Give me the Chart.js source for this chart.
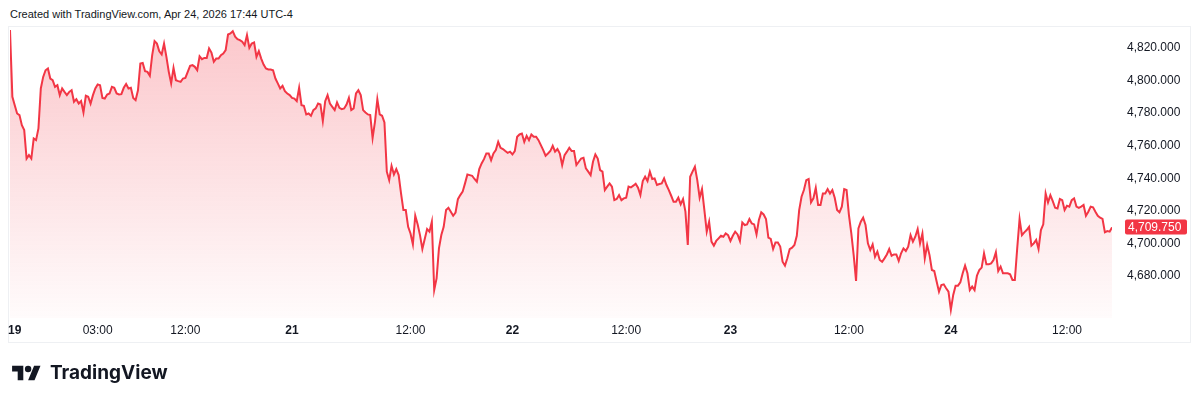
<!DOCTYPE html>
<html>
<head>
<meta charset="utf-8">
<script src="https://cdn.jsdelivr.net/npm/chart.js@4.4.1/dist/chart.umd.min.js"></script>
<style>
  html, body { margin: 0; padding: 0; background: #fff; }
  body { width: 1200px; height: 401px; position: relative; overflow: hidden;
         font-family: "Liberation Sans", Arial, sans-serif; color: #131722; }
  #header { position: absolute; left: 10px; top: 7px; font-size: 11px; line-height: 15px; }
  #frame { position: absolute; left: 8px; top: 26px; width: 1183px; height: 317px;
           border: 1px solid #eef0f3; box-sizing: border-box; }
  #chart { position: absolute; left: 0; top: 0; }
  #logo { position: absolute; left: 12px; top: 361px; display: flex; align-items: center; }
  #logo span { font-family: Inter, "Liberation Sans", sans-serif; font-weight: 700;
               font-size: 19px; margin-left: 9px; color: #131722; }
</style>
</head>
<body>
<div id="header">Created with TradingView.com, Apr 24, 2026 17:44 UTC-4</div>
<div id="frame"></div>
<canvas id="chart" width="1200" height="401"></canvas>
<div id="logo">
  <svg width="29" height="16" viewBox="0 3 36 20"><path fill="#131722" d="M14 22H7V11H0V4h14v18zM28 22h-8l7.5-18h8L28 22z"/><circle fill="#131722" cx="20" cy="8" r="4"/></svg>
  <span>TradingView</span>
</div>
<script>
// 15 minute closes, Sun 19 Apr 18:00 -> Fri 24 Apr
const closes = [
  4831.1, 4790.1, 4784.9, 4779.8, 4778.8, 4772.6, 4769.6, 4752.1, 4754.2, 4752.1,
  4764.4, 4763.4, 4770.6, 4795.2, 4802.3, 4806.4, 4807.5, 4801.3, 4800.3, 4796.2,
  4797.2, 4791.1, 4795.2, 4793.1, 4791.1, 4793.1, 4794.1, 4787.0, 4788.6, 4785.9,
  4787.4, 4780.4, 4790.7, 4790.1, 4785.9, 4791.1, 4795.2, 4797.7, 4797.2, 4789.4,
  4789.0, 4791.5, 4792.1, 4796.2, 4795.6, 4792.1, 4791.5, 4791.7, 4795.6, 4797.9,
  4795.2, 4795.6, 4789.4, 4788.0, 4794.1, 4810.5, 4810.9, 4805.8, 4805.4, 4803.0,
  4815.7, 4824.3, 4822.8, 4818.1, 4816.1, 4822.8, 4814.6, 4805.4, 4798.3, 4807.9,
  4800.3, 4799.7,
  4799.3, 4801.3, 4801.7, 4805.4, 4809.1, 4809.5, 4808.5, 4806.4, 4815.0, 4813.2,
  4814.0, 4814.0, 4819.8, 4817.3, 4811.6, 4813.6, 4813.6, 4815.7, 4816.7, 4818.8,
  4828.4, 4829.0, 4830.4, 4827.0, 4825.5, 4824.9, 4823.9, 4821.8, 4828.0, 4820.2,
  4822.8, 4823.5, 4814.6, 4818.1, 4813.6, 4809.9, 4807.5, 4806.9, 4806.9, 4806.4,
  4801.3, 4798.3, 4795.2, 4796.8, 4793.5, 4792.1, 4791.1, 4789.4, 4789.0, 4787.4,
  4795.6, 4784.9, 4784.5, 4779.2, 4779.8, 4778.4, 4781.9, 4782.9, 4785.9, 4785.3,
  4775.1, 4787.4, 4791.1, 4785.9, 4783.9, 4781.9, 4786.6, 4783.3, 4782.5, 4782.9,
  4785.3, 4789.4, 4781.9, 4782.9, 4792.1, 4794.1, 4791.1, 4781.9,
  4780.4, 4779.2, 4778.8, 4764.8, 4774.7, 4788.6, 4779.2, 4778.4, 4774.3, 4744.0,
  4738.8, 4747.6, 4742.3, 4745.6, 4741.9, 4730.6, 4720.4, 4720.4, 4710.1, 4706.0,
  4699.3, 4716.9, 4711.6, 4705.0, 4696.4, 4702.6, 4708.7, 4707.1, 4713.2, 4671.2,
  4678.4, 4696.8, 4705.0, 4710.1, 4720.4, 4721.8, 4719.4, 4716.9, 4718.9, 4727.1,
  4729.6, 4731.7, 4736.8, 4742.3, 4741.9, 4741.5, 4739.5, 4737.8, 4745.6, 4749.1,
  4751.7, 4755.2, 4755.2, 4751.1, 4755.2, 4757.3, 4762.4, 4758.7, 4757.9, 4756.7,
  4755.6, 4756.3, 4754.6, 4756.7, 4765.5, 4766.9, 4767.5, 4762.4, 4766.1, 4763.4,
  4766.9, 4765.5, 4765.5, 4763.4, 4760.3, 4757.3, 4753.8, 4755.2,
  4756.7, 4759.9, 4756.3, 4757.9, 4755.2, 4748.1, 4754.2, 4756.3, 4758.7, 4756.7,
  4756.7, 4748.1, 4750.1, 4752.1, 4752.6, 4746.0, 4744.0, 4741.9, 4750.1, 4754.6,
  4752.1, 4745.0, 4744.0, 4732.7, 4734.8, 4736.8, 4734.8, 4726.5, 4727.2, 4729.6,
  4726.5, 4727.6, 4728.0, 4734.8, 4734.3, 4735.4, 4736.6, 4734.1, 4729.6, 4738.2,
  4740.9, 4738.2, 4744.0, 4739.5, 4739.9, 4735.8, 4736.4, 4736.8, 4739.9, 4735.8,
  4732.7, 4729.2, 4725.5, 4725.5, 4728.0, 4723.9, 4727.2, 4719.4, 4698.9, 4740.9,
  4744.0, 4747.0, 4738.8, 4728.0, 4733.3, 4720.4, 4707.1, 4713.2, 4701.0, 4698.5,
  4701.4, 4703.0, 4704.6, 4704.0, 4706.0, 4705.0, 4701.4, 4704.6,
  4707.1, 4705.4, 4701.4, 4712.8, 4711.2, 4711.6, 4714.9, 4712.2, 4711.6, 4705.4,
  4714.3, 4719.0, 4717.7, 4714.9, 4703.4, 4702.6, 4696.4, 4700.5, 4700.5, 4697.9,
  4688.6, 4686.2, 4690.7, 4696.4, 4697.3, 4698.9, 4704.6, 4720.4, 4728.6, 4732.7,
  4738.8, 4739.5, 4725.1, 4727.6, 4734.1, 4723.5, 4723.5, 4730.6, 4730.6, 4733.3,
  4730.6, 4732.7, 4728.0, 4720.4, 4719.0, 4722.5, 4733.3, 4732.7, 4717.3, 4706.0,
  4692.7, 4676.8, 4709.1, 4713.2, 4715.7, 4711.2, 4699.9, 4695.8, 4699.3, 4691.7,
  4694.8, 4689.7, 4688.6, 4690.7, 4693.1, 4696.4, 4692.3, 4693.1, 4693.1, 4689.1,
  4693.8, 4696.8, 4695.2, 4697.9, 4705.0, 4701.0, 4704.0, 4708.7, 4699.9,
  4706.0, 4690.7, 4698.9, 4692.7, 4683.5, 4682.9, 4676.4, 4670.2, 4674.3, 4674.7,
  4672.3, 4670.2, 4659.0, 4668.2, 4673.9, 4673.9, 4675.9, 4681.5, 4686.2, 4681.5,
  4671.2, 4673.3, 4671.2, 4680.0, 4683.5, 4685.0, 4693.8, 4687.0, 4687.0, 4687.6,
  4689.7, 4694.4, 4682.9, 4685.6, 4681.5, 4681.5, 4681.5, 4680.9, 4677.4, 4677.4,
  4696.8, 4714.9, 4705.0, 4706.7, 4708.1, 4710.1, 4698.5, 4699.9, 4702.0, 4696.4,
  4708.1, 4711.6, 4730.6, 4725.1, 4729.6, 4725.9, 4721.8, 4721.4, 4727.2, 4726.5,
  4720.4, 4723.1, 4722.5, 4726.5, 4727.6, 4722.5, 4721.8, 4722.5, 4723.5, 4716.9,
  4719.4, 4722.5, 4722.1, 4719.4, 4716.9, 4715.7, 4714.9, 4706.7, 4707.5, 4707.1,
  4709.75
];

// time axis: bar index of each label
const timeTickBars = [2, 37, 74, 119, 169, 212, 260, 304, 354, 397, 446];
const timeTickLabels = ["19", "03:00", "12:00", "21", "12:00", "22", "12:00", "23", "12:00", "24", "12:00"];
const dayLabels = ["19", "21", "22", "23", "24"];

const priceTicks = [4680, 4700, 4720, 4740, 4760, 4780, 4800, 4820];
const priceMin = 4654;
const priceMax = 4833;
const lastPrice = closes[closes.length - 1];

const RED = "#F23645";
const FONT = "'Liberation Sans', Arial, sans-serif";

const fmt = (v) => v.toLocaleString("en-US", { minimumFractionDigits: 3, maximumFractionDigits: 3 });

//price tag on the right axis
const lastPriceTag = {
  id: "lastPriceTag",
  afterDraw(chart) {
    const c = chart.ctx;
    const y = chart.scales.y.getPixelForValue(lastPrice);
    const x = chart.chartArea.right + 13;
    c.save();
    c.fillStyle = RED;
    c.beginPath();
    c.roundRect(x, Math.round(y) - 7.5, 62, 15, 2);
    c.fill();
    c.fillStyle = "#fff";
    c.font = "12px " + FONT;
    c.textBaseline = "middle";
    c.textAlign = "left";
    c.fillText(fmt(lastPrice), x + 3, Math.round(y) + 0.5);
    c.restore();
  }
};

const ctx = document.getElementById("chart").getContext("2d");
const chart = new Chart(ctx, {
  type: "line",
  data: {
    datasets: [{
      data: closes.map((v, i) => ({ x: i, y: v })),
      borderColor: RED,
      borderWidth: 2,
      pointRadius: 0,
      tension: 0,
      fill: "start",
      backgroundColor: (context) => {
        const area = context.chart.chartArea;
        if (!area) return "rgba(242,54,69,0.2)";
        const g = context.chart.ctx.createLinearGradient(0, area.top, 0, area.bottom);
        g.addColorStop(0, "rgba(242,54,69,0.28)");
        g.addColorStop(1, "rgba(242,54,69,0.02)");
        return g;
      }
    }]
  },
  options: {
    responsive: false,
    devicePixelRatio: 1,
    animation: false,
    layout: { padding: { left: 10, top: 27, right: 0, bottom: 58 } },
    plugins: { legend: { display: false }, tooltip: { enabled: false } },
    scales: {
      x: {
        type: "linear",
        min: 0,
        max: closes.length - 1,
        grid: { display: false, drawTicks: false },
        border: { display: false },
        afterBuildTicks: (scale) => { scale.ticks = timeTickBars.map((v) => ({ value: v })); },
        afterFit: (scale) => { scale.height = 25; },
        ticks: {
          autoSkip: false,
          maxRotation: 0,
          padding: 5,
          color: "#131722",
          callback: (v) => timeTickLabels[timeTickBars.indexOf(v)],
          font: (c) => ({
            family: FONT,
            size: 12,
            weight: dayLabels.includes(timeTickLabels[c.index]) ? "bold" : "normal"
          })
        }
      },
      y: {
        position: "right",
        min: priceMin,
        max: priceMax,
        grid: { display: false, drawTicks: false },
        border: { display: false },
        afterBuildTicks: (scale) => { scale.ticks = priceTicks.map((v) => ({ value: v })); },
        afterFit: (scale) => { scale.width = 88; },
        ticks: {
          crossAlign: "near",
          padding: 15,
          color: "#131722",
          font: { family: FONT, size: 12 },
          callback: (v) => fmt(v)
        }
      }
    }
  },
  plugins: [lastPriceTag]
});
</script>
</body>
</html>
